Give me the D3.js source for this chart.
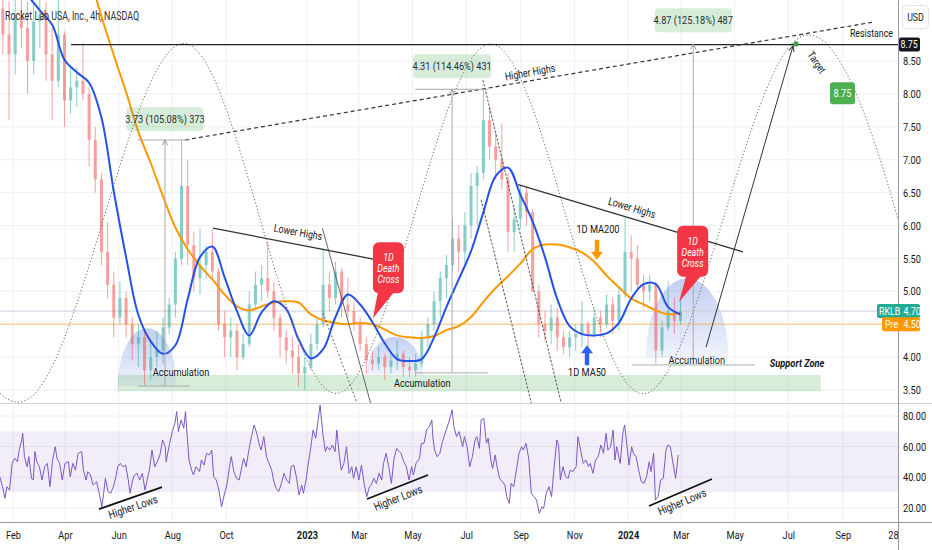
<!DOCTYPE html>
<html>
<head>
<meta charset="utf-8">
<script src="https://cdn.jsdelivr.net/npm/d3@7"></script>
<style>
  body { margin: 0; background: #fff; }
  svg { display: block; }
</style>
</head>
<body>
<svg id="chart" width="932" height="550"></svg>
<script>
// ************************************************************ DATA
// weekly bars, first bar = week of 2022-01-17
var weekStart = new Date(2022, 0, 17);

var candleOpen = [9.3, 8.9, 8.6, 9.2, 9.0, 8.5, 9.1, 9.2, 8.6, 8.2,
  8.9, 7.9, 8.1, 8.2, 8.0, 7.3, 6.7, 5.6, 5.1, 4.6,
  4.9, 4.5, 4.2, 4.3, 3.8, 4.0, 4.1, 4.45, 4.8, 5.5,
  6.6, 5.7, 5.2, 5.4, 5.6, 5.3, 4.5, 4.3, 4.4, 4.0,
  4.2, 4.8, 5.1, 5.2, 5.0, 4.6, 4.3, 4.1, 4.0, 3.75,
  3.85, 4.2, 4.5, 5.1, 4.9, 5.3, 4.8, 4.7, 4.5, 4.2,
  3.95, 3.9, 4.0, 3.85, 3.95, 4.05, 3.85, 3.8, 3.9, 4.3,
  4.5, 4.85, 5.2, 5.4, 5.8, 5.6, 6.0, 6.6, 6.8, 7.6,
  7.2, 7.0, 6.7, 5.9, 6.1, 6.5, 6.2, 5.0, 4.5, 4.4,
  4.6, 4.3, 4.15, 4.3, 4.35, 4.5, 4.35, 4.6, 4.5, 4.8,
  4.55, 4.95, 5.6, 5.5, 5.1, 5.0, 5.1, 4.1, 4.45, 4.7,
  4.55];
var candleHigh = [9.6, 9.4, 9.5, 9.6, 9.4, 9.4, 9.6, 9.4, 9.0, 9.5,
  8.95, 8.4, 8.4, 8.77, 8.1, 7.5, 6.8, 6.05, 5.3, 5.15,
  5.0, 4.6, 4.5, 4.4, 4.25, 4.4, 4.6, 4.9, 5.6, 7.3,
  7.0, 5.9, 5.95, 5.7, 5.95, 5.35, 4.7, 4.6, 4.5, 4.35,
  5.0, 5.3, 5.4, 5.75, 5.15, 4.65, 4.4, 4.3, 4.2, 4.0,
  4.35, 4.6, 5.65, 5.3, 5.45, 5.35, 5.2, 4.85, 4.6, 4.3,
  4.1, 4.15, 4.05, 4.1, 4.25, 4.1, 4.0, 4.05, 4.4, 4.6,
  5.0, 5.3, 5.55, 6.1, 6.0, 6.2, 6.8, 6.9, 8.06, 7.8,
  7.4, 7.55, 6.8, 6.3, 6.6, 6.6, 6.25, 5.1, 4.7, 4.8,
  4.75, 4.4, 4.4, 4.5, 4.85, 4.55, 4.75, 4.7, 4.95, 4.9,
  5.05, 6.12, 5.85, 5.7, 5.25, 5.25, 5.15, 4.55, 5.15, 4.9,
  4.9];
var candleLow = [8.6, 7.6, 8.3, 8.7, 8.0, 8.3, 8.7, 8.2, 7.6, 8.1,
  7.5, 7.7, 7.8, 7.9, 6.9, 6.5, 5.4, 4.9, 4.3, 4.5,
  4.3, 3.95, 3.85, 3.57, 3.65, 3.85, 3.9, 4.35, 4.6, 5.4,
  5.4, 5.0, 4.95, 5.2, 5.2, 4.4, 4.0, 4.0, 3.8, 3.95,
  4.15, 4.75, 4.85, 4.9, 4.4, 4.0, 3.9, 3.75, 3.55, 3.5,
  3.8, 4.1, 4.45, 4.7, 4.8, 4.6, 4.6, 4.4, 4.1, 3.75,
  3.8, 3.8, 3.65, 3.75, 3.8, 3.7, 3.7, 3.7, 3.85, 4.15,
  4.4, 4.6, 4.9, 5.3, 5.3, 5.4, 5.8, 6.0, 6.7, 7.0,
  6.7, 6.55, 5.6, 5.6, 5.95, 6.0, 5.0, 4.3, 4.25, 4.2,
  4.1, 4.05, 4.0, 4.1, 4.15, 4.15, 4.3, 4.3, 4.45, 4.35,
  4.4, 4.9, 5.0, 5.0, 4.75, 4.85, 3.9, 4.0, 4.4, 4.35,
  4.5];
var candleClose = [8.9, 8.6, 9.2, 9.0, 8.5, 9.1, 9.2, 8.6, 8.2, 8.9,
  7.9, 8.1, 8.2, 8.0, 7.3, 6.7, 5.6, 5.1, 4.6, 4.9,
  4.5, 4.2, 4.3, 3.8, 4.0, 4.1, 4.45, 4.8, 5.5, 6.6,
  5.7, 5.2, 5.4, 5.6, 5.3, 4.5, 4.3, 4.4, 4.0, 4.2,
  4.8, 5.1, 5.2, 5.0, 4.6, 4.3, 4.1, 4.0, 3.75, 3.85,
  4.2, 4.5, 5.1, 4.9, 5.3, 4.8, 4.7, 4.5, 4.2, 3.95,
  3.9, 4.0, 3.85, 3.95, 4.05, 3.85, 3.8, 3.9, 4.3, 4.5,
  4.85, 5.2, 5.4, 5.8, 5.6, 6.0, 6.6, 6.8, 7.6, 7.2,
  7.0, 6.7, 5.9, 6.1, 6.5, 6.2, 5.0, 4.5, 4.4, 4.6,
  4.3, 4.15, 4.3, 4.35, 4.5, 4.35, 4.6, 4.5, 4.8, 4.55,
  4.95, 5.6, 5.5, 5.1, 5.0, 5.1, 4.1, 4.45, 4.7, 4.55,
  4.7];

// 1D MA50 (blue), one value every second weekly bar from week 0
var maFast = [9.88, 9.73, 9.5, 9.27, 9.05, 8.52, 8.33, 8.17, 7.64, 6.52,
  5.52, 4.64, 4.24, 4.05, 4.18, 4.88, 5.52, 5.68, 5.21, 4.70,
  4.33, 4.68, 4.85, 4.73, 4.27, 3.98, 4.12, 4.61, 4.95, 4.80,
  4.53, 4.21, 3.97, 3.94, 3.97, 4.30, 4.76, 5.18, 5.61, 6.20,
  6.75, 6.88, 6.47, 6.06, 5.52, 4.88, 4.47, 4.35, 4.33, 4.36,
  4.52, 4.89, 5.11, 5.11, 4.76, 4.65];
// 1D MA200 (orange), one value every second weekly bar from week 12
var maSlowFirstWeek = 12;
var maSlow = [10.42, 9.82, 9.18, 8.59, 8.03, 7.42, 6.95, 6.44, 5.97, 5.64,
  5.39, 5.18, 4.95, 4.77, 4.71, 4.77, 4.83, 4.85, 4.83, 4.65,
  4.56, 4.52, 4.50, 4.52, 4.50, 4.42, 4.33, 4.30, 4.29, 4.32,
  4.41, 4.47, 4.61, 4.84, 5.05, 5.23, 5.42, 5.64, 5.71, 5.71,
  5.67, 5.59, 5.45, 5.24, 5.06, 4.89, 4.80, 4.71, 4.65, 4.67];

// RSI, day offsets from weekStart and values
var rsiDay = [0, 3, 6, 8, 11, 14, 17, 20, 22, 25, 26, 28, 31, 33, 36, 38, 40, 42, 45, 48,
  51, 54, 57, 60, 63, 65, 68, 71, 74, 78, 80, 83, 86, 89, 93, 95, 98, 100, 103, 106,
  110, 113, 116, 118, 120, 123, 126, 129, 132, 134, 137, 140, 143, 146, 148, 151, 153, 156, 159, 162,
  165, 167, 170, 173, 176, 179, 182, 185, 188, 189, 193, 196, 199, 201, 203, 206, 209, 211, 213, 215,
  218, 220, 223, 227, 229, 232, 235, 238, 241, 243, 246, 249, 252, 255, 258, 261, 263, 266, 269, 272,
  275, 277, 280, 283, 286, 289, 292, 295, 297, 300, 303, 306, 309, 311, 314, 317, 320, 323, 326, 329,
  331, 334, 337, 340, 343, 345, 348, 350, 353, 356, 359, 362, 364, 367, 370, 372, 375, 378, 381, 383,
  386, 388, 391, 394, 397, 400, 402, 405, 408, 411, 414, 417, 420, 422, 425, 428, 431, 434, 436, 439,
  442, 445, 448, 451, 454, 456, 459, 462, 465, 468, 470, 473, 477, 479, 482, 485, 488, 491, 492, 494,
  497, 500, 503, 506, 508, 511, 514, 516, 519, 522, 526, 528, 531, 534, 537, 540, 542, 545, 547, 550,
  553, 555, 558, 560, 563, 565, 568, 571, 574, 576, 579, 581, 584, 587, 590, 593, 595, 598, 601, 604,
  607, 610, 613, 616, 618, 621, 624, 627, 630, 633, 635, 637, 640, 643, 646, 648, 651, 655, 657, 660,
  663, 666, 669, 671, 674, 677, 680, 683, 686, 689, 691, 694, 697, 699, 701, 705, 708, 710, 712, 715,
  718, 720, 723, 726, 729, 732, 735, 738, 740, 743, 745, 748, 751, 754, 757, 759, 762, 765, 768, 771];
var rsiValue = [40.3, 33.7, 26.1, 33.7, 31.5, 49.0, 52.3, 50.1, 57.7, 64.3, 68.7, 53.4, 46.8, 53.4, 39.2, 38.1, 56.7, 50.1, 46.8, 38.1,
  46.8, 49.0, 33.7, 51.2, 59.9, 52.3, 49.0, 38.1, 49.0, 50.1, 40.3, 49.0, 44.6, 55.6, 56.7, 44.6, 38.1, 43.6, 41.4, 34.8,
  37.0, 29.4, 20.6, 29.4, 39.2, 30.5, 29.4, 33.7, 40.3, 46.8, 49.0, 46.8, 47.9, 38.1, 29.4, 38.1, 41.4, 42.5, 38.1, 42.5,
  31.5, 37.0, 44.6, 57.7, 46.8, 50.1, 54.5, 64.3, 59.9, 50.1, 62.1, 69.8, 75.2, 82.9, 69.8, 77.4, 72.0, 82.9, 66.5, 51.2,
  44.6, 41.4, 46.8, 43.6, 51.2, 47.9, 55.6, 54.5, 57.7, 40.3, 38.1, 31.5, 20.6, 28.3, 34.8, 46.8, 53.4, 43.6, 39.2, 38.1,
  46.8, 52.3, 46.8, 57.7, 66.5, 74.1, 68.7, 61.0, 57.7, 66.5, 53.4, 49.0, 44.6, 38.1, 32.6, 30.5, 35.9, 42.5, 38.1, 35.9,
  46.8, 47.9, 40.3, 28.3, 34.8, 29.4, 38.1, 46.8, 57.7, 70.8, 65.4, 78.5, 87.2, 68.7, 56.7, 59.9, 57.7, 61.0, 56.7, 70.8,
  53.4, 44.6, 49.0, 59.9, 42.5, 46.8, 39.2, 46.8, 38.1, 47.9, 35.9, 27.2, 33.7, 34.8, 39.2, 35.9, 42.5, 38.1, 49.0, 55.6,
  46.8, 35.9, 52.3, 58.8, 56.7, 55.6, 50.1, 46.8, 38.1, 46.8, 41.4, 49.0, 52.3, 62.1, 62.1, 70.8, 73.0, 77.4, 66.5, 57.7,
  53.4, 55.6, 63.2, 68.7, 72.0, 77.4, 84.0, 73.0, 66.5, 69.8, 59.9, 66.5, 59.9, 46.8, 53.4, 64.3, 66.5, 58.8, 77.4, 78.5,
  62.1, 65.4, 51.2, 45.7, 54.5, 46.8, 39.2, 37.0, 34.8, 27.2, 22.8, 35.9, 33.7, 44.6, 55.6, 59.9, 57.7, 62.1, 52.3, 29.4,
  27.2, 25.0, 16.3, 20.6, 19.5, 29.4, 33.7, 27.2, 46.8, 64.3, 61.0, 38.1, 46.8, 40.3, 39.2, 44.6, 43.6, 46.8, 66.5, 57.7,
  49.0, 51.2, 46.8, 49.0, 42.5, 51.2, 53.4, 61.0, 55.6, 68.7, 57.7, 59.9, 70.8, 51.2, 59.9, 49.0, 68.7, 74.1, 64.3, 47.9,
  59.9, 55.6, 53.4, 44.6, 37.0, 35.9, 40.3, 50.1, 43.6, 55.6, 25.0, 27.2, 38.1, 39.2, 57.7, 61.0, 59.9, 49.0, 39.2, 54.5];

var lastPrice = 4.70;
var prePrice = 4.50;
var resistancePrice = 8.75;

var priceTicks = [3.5, 4, 5, 5.5, 6, 6.5, 7, 7.5, 8, 8.5];
var priceGrid = [3.5, 4, 4.5, 5, 5.5, 6, 6.5, 7, 7.5, 8, 8.5];
var rsiTicks = [20, 40, 60, 80];
var timeTickDates = ["2022-02-01", "2022-04-01", "2022-06-01", "2022-08-01", "2022-10-01", "2023-01-01",
  "2023-03-01", "2023-05-01", "2023-07-01", "2023-09-01", "2023-11-01", "2024-01-01",
  "2024-03-01", "2024-05-01", "2024-07-01", "2024-09-01", "2024-10-28"];
var timeTickLabels = ["Feb", "Apr", "Jun", "Aug", "Oct", "2023", "Mar", "May", "Jul", "Sep", "Nov", "2024",
  "Mar", "May", "Jul", "Sep", "28"];

// ************************************************************ LAYOUT
var FONT = 'Roboto, "Liberation Sans", sans-serif';
var SQ = 0.8; // horizontal squeeze, the screenshot font is condensed
var INK = "#131722";
var axisX = 898, mainBottom = 403, rsiTop = 404, rsiBottom = 522;

var parseDay = d3.timeParse("%Y-%m-%d");
var timeTicks = timeTickDates.map(parseDay);

var x = d3.scaleTime()
  .domain([new Date(2022, 1, 1), new Date(2024, 9, 28)])
  .range([13, 893]);
var y = d3.scaleLinear().domain([3.5, 8.5]).range([390, 61]);
var yr = d3.scaleLinear().domain([20, 80]).range([507.7, 416]);

function dayDate(d) { return new Date(weekStart.getTime() + d * 864e5); }
function px(d) { return x(dayDate(d)); }
// point on the price pane from (day offset, price)
function P(d, p) { return [px(d), y(p)]; }
function R(d, v) { return [px(d), yr(v)]; }

var svg = d3.select("#chart").style("font-family", FONT);
var defs = svg.append("defs");

defs.append("clipPath").attr("id", "clipMain")
  .append("rect").attr("width", axisX).attr("height", mainBottom);
defs.append("clipPath").attr("id", "clipRsi")
  .append("rect").attr("y", rsiTop).attr("width", axisX).attr("height", rsiBottom - rsiTop);

var hump = defs.append("linearGradient").attr("id", "humpFill")
  .attr("x1", 0).attr("y1", 0).attr("x2", 0).attr("y2", 1);
hump.append("stop").attr("offset", "0%").attr("stop-color", "rgba(98,130,225,0.38)");
hump.append("stop").attr("offset", "100%").attr("stop-color", "rgba(98,130,225,0.10)");

function marker(id, color) {
  defs.append("marker").attr("id", id)
    .attr("viewBox", "0 0 10 10").attr("refX", 9).attr("refY", 5)
    .attr("markerWidth", 7).attr("markerHeight", 7).attr("orient", "auto")
    .append("path").attr("d", "M1,1 L9,5 L1,9")
    .attr("fill", "none").attr("stroke", color).attr("stroke-width", 1.4);
}
marker("arrowDark", "#333");
marker("arrowGray", "#999");

svg.append("rect").attr("width", 932).attr("height", 550).attr("fill", "#fff");

// text helper: every label is squeezed horizontally around its anchor
function txt(g, pos, str, opts) {
  opts = opts || {};
  return g.append("text")
    .attr("transform", "translate(" + pos[0] + "," + pos[1] + ") rotate(" + (opts.rot || 0) + ") scale(" + (opts.sq || SQ) + ",1)")
    .attr("text-anchor", opts.anchor || "middle").attr("dominant-baseline", "central")
    .attr("font-size", opts.size || 11).attr("fill", opts.fill || INK)
    .attr("font-style", opts.italic ? "italic" : null)
    .attr("font-weight", opts.bold ? "bold" : null)
    .text(str);
}

// ************************************************************ GRID
var grid = svg.append("g").attr("stroke", "#eef0f4").attr("stroke-width", 1);
timeTicks.slice(0, -1).forEach(function (t) {
  grid.append("line").attr("x1", x(t)).attr("x2", x(t)).attr("y1", 0).attr("y2", rsiBottom);
});
priceGrid.forEach(function (p) {
  grid.append("line").attr("x1", 0).attr("x2", axisX).attr("y1", y(p)).attr("y2", y(p));
});
rsiTicks.forEach(function (v) {
  grid.append("line").attr("x1", 0).attr("x2", axisX).attr("y1", yr(v)).attr("y2", yr(v));
});

var main = svg.append("g").attr("clip-path", "url(#clipMain)");
var rsiG = svg.append("g").attr("clip-path", "url(#clipRsi)");

// ************************************************************ ZONES
// support zone
var zA = P(134, 3.73), zB = P(933, 3.48);
main.append("rect")
  .attr("x", zA[0]).attr("y", zA[1]).attr("width", zB[0] - zA[0]).attr("height", zB[1] - zA[1])
  .attr("fill", "rgba(76,175,80,0.22)");

// accumulation humps: [day left, day right, base price, top price]
var humps = [[134, 201, 3.56, 4.44], [417, 481, 3.73, 4.31], [734, 828, 3.99, 5.2]];
main.selectAll("path.hump").data(humps).join("path").attr("class", "hump")
  .attr("d", function (h) {
    var a = P(h[0], h[2]), b = P(h[1], h[2]);
    var rx = (b[0] - a[0]) / 2, ry = a[1] - y(h[3]);
    return "M" + a[0] + "," + a[1] + " A" + rx + "," + ry + " 0 0 1 " + b[0] + "," + b[1] + " Z";
  })
  .attr("fill", "url(#humpFill)");

// last price lines
main.append("line").attr("x1", 0).attr("x2", axisX).attr("y1", y(lastPrice)).attr("y2", y(lastPrice))
  .attr("stroke", "#c8ccd6").attr("stroke-width", 1);
main.append("line").attr("x1", 0).attr("x2", axisX).attr("y1", y(prePrice)).attr("y2", y(prePrice))
  .attr("stroke", "#ffb74d").attr("stroke-width", 1).attr("opacity", 0.8);

// ************************************************************ CANDLES
var candles = candleOpen.map(function (o, i) {
  return { t: dayDate(7 * i + 3.5), o: o, h: candleHigh[i], l: candleLow[i], c: candleClose[i] };
});
var cg = main.append("g").attr("opacity", 0.55);
cg.selectAll("line").data(candles).join("line")
  .attr("x1", function (d) { return x(d.t); }).attr("x2", function (d) { return x(d.t); })
  .attr("y1", function (d) { return y(d.h); }).attr("y2", function (d) { return y(d.l); })
  .attr("stroke", function (d) { return d.c >= d.o ? "#26a69a" : "#ef5350"; })
  .attr("stroke-width", 1);
cg.selectAll("rect").data(candles).join("rect")
  .attr("x", function (d) { return x(d.t) - 1.5; })
  .attr("width", 3)
  .attr("y", function (d) { return y(Math.max(d.o, d.c)); })
  .attr("height", function (d) { return Math.max(1, Math.abs(y(d.o) - y(d.c))); })
  .attr("fill", function (d) { return d.c >= d.o ? "#26a69a" : "#ef5350"; });

// ************************************************************ MOVING AVERAGES
var maLine = d3.line().curve(d3.curveCatmullRom.alpha(0.5));
main.append("path")
  .attr("d", maLine(maSlow.map(function (v, i) { return [x(dayDate(7 * (maSlowFirstWeek + 2 * i) + 3.5)), y(v)]; })))
  .attr("fill", "none").attr("stroke", "#ff9800").attr("stroke-width", 2);
main.append("path")
  .attr("d", maLine(maFast.map(function (v, i) { return [x(dayDate(7 * (2 * i) + 3.5)), y(v)]; })))
  .attr("fill", "none").attr("stroke", "#2451e6").attr("stroke-width", 2);

// ************************************************************ DRAWINGS
function seg(g, a, b, stroke, width, dash) {
  return g.append("line").attr("x1", a[0]).attr("y1", a[1]).attr("x2", b[0]).attr("y2", b[1])
    .attr("stroke", stroke).attr("stroke-width", width).attr("stroke-dasharray", dash || null);
}

// cycle wave: alternating peaks and troughs
var wave = [[-133, 8.76], [40, 3.45], [213, 8.76], [383, 3.45], [557, 8.76], [727, 3.45], [900, 8.76], [1072, 3.45]];
main.append("path")
  .attr("d", d3.line().curve(d3.curveNatural)(wave.map(function (w) { return P(w[0], w[1]); })))
  .attr("fill", "none").attr("stroke", "#666").attr("stroke-width", 1).attr("stroke-dasharray", "1.2,2.2");

// resistance
seg(main, P(81, resistancePrice), [axisX, y(resistancePrice)], "#222", 1.3);
txt(main, [893, y(8.93)], "Resistance", { anchor: "end" });

// higher highs
seg(main, P(210.5, 7.30), P(992, 9.09), "#333", 1.2, "4,3");
txt(main, P(602.5, 8.33), "Higher Highs", { rot: -10 });

// descending channel lines
seg(main, P(366.6, 5.96), P(422, 3.27), "#555", 0.9);
seg(main, P(367.3, 4.67), P(406, 3.30), "#555", 0.9, "2,2");
seg(main, P(549, 8.21), P(638, 3.30), "#444", 0.9, "2.5,1.5");
seg(main, P(547, 6.39), P(604, 3.30), "#444", 0.9, "2.5,1.5");

// lower highs
seg(main, P(242.3, 5.96), P(432, 5.47), "#333", 1.3);
txt(main, P(339, 5.90), "Lower Highs", { rot: 10.3 });
seg(main, P(589, 6.62), P(844.5, 5.60), "#333", 1.3);
txt(main, P(718.4, 6.27), "Lower Highs", { rot: 16.6 });

// measurements: [day of vertical, low, high, day left, day right, label price, text, box width]
var measures = [
  [187.7, 3.56, 7.30, 157, 216, 7.62, "3.73 (105.08%) 373", 77],
  [514, 3.76, 8.07, 472, 555, 8.42, "4.31 (114.46%) 431", 78],
  [788, 3.88, 8.76, 718, 858, 9.12, "4.87 (125.18%) 487", 77]
];
measures.forEach(function (m) {
  seg(main, P(m[3], m[1]), P(m[4], m[1]), "#aaa", 1);
  if (m[2] < 8.7) seg(main, P(m[3], m[2]), P(m[4], m[2]), "#aaa", 1);
  seg(main, P(m[0], m[1]), P(m[0], m[2]), "#aaa", 1).attr("marker-end", "url(#arrowGray)");
  var c = P(m[0], m[5]);
  main.append("rect").attr("x", c[0] - m[7] / 2).attr("y", c[1] - 12).attr("width", m[7]).attr("height", 24)
    .attr("rx", 4).attr("fill", "rgba(76,175,80,0.22)");
  txt(main, c, m[6], { size: 11.5, fill: "#2a2e39" });
});

// projection arrow and target
seg(main, P(802.5, 4.15), P(901.4, 8.73), "#333", 1).attr("marker-end", "url(#arrowDark)");
var tgt = P(904.8, 8.76);
main.append("circle").attr("cx", tgt[0]).attr("cy", tgt[1]).attr("r", 2.6).attr("fill", "#43a047");
txt(main, P(928.6, 8.48), "Target", { rot: 56, size: 10.5 });
var tb = P(957.6, 8.01);
main.append("rect").attr("x", tb[0] - 12.5).attr("y", tb[1] - 11).attr("width", 25).attr("height", 22)
  .attr("rx", 3).attr("fill", "#4caf50");
txt(main, tb, "8.75", { size: 11.5, fill: "#fff" });

// text labels
txt(main, P(206, 3.77), "Accumulation", { size: 11.5 });
txt(main, P(480, 3.61), "Accumulation", { size: 11.5 });
txt(main, P(792, 3.96), "Accumulation", { size: 11.5 });
txt(main, P(906, 3.91), "Support Zone", { italic: true, bold: true, size: 11.5 });

// MA arrows
function arrow(tip, dir, color) {
  var s = dir; // -1 up, 1 down
  var pts = [[0, 0], [-6, -8 * s], [-2.2, -8 * s], [-2.2, -20 * s], [2.2, -20 * s], [2.2, -8 * s], [6, -8 * s]];
  main.append("polygon")
    .attr("points", pts.map(function (p) { return (tip[0] + p[0]) + "," + (tip[1] + p[1]); }).join(" "))
    .attr("fill", color);
}
var tipOrange = P(678.6, 5.48);
arrow(tipOrange, 1, "#ff9800");
txt(main, [tipOrange[0] + 1, tipOrange[1] - 31], "1D MA200", { size: 11.5 });
var tipBlue = P(667.3, 4.18);
arrow(tipBlue, -1, "#2962ff");
txt(main, [tipBlue[0], tipBlue[1] + 27], "1D MA50", { size: 11.5 });

// death cross callouts: tip point, box offset and tail base relative to tip
function callout(tip, bx, tail) {
  var g = main.append("g");
  g.append("polygon")
    .attr("points", [tip, [tip[0] + tail[0], tip[1] - 26], [tip[0] + tail[1], tip[1] - 26]]
      .map(function (p) { return p.join(","); }).join(" "))
    .attr("fill", "#f23645");
  g.append("rect").attr("x", tip[0] + bx).attr("y", tip[1] - 76).attr("width", 31).attr("height", 51)
    .attr("rx", 6).attr("fill", "#f23645");
  var cx = tip[0] + bx + 15.5;
  ["1D", "Death", "Cross"].forEach(function (s, i) {
    txt(g, [cx, tip[1] - 61 + i * 11], s, { size: 11, italic: true, fill: "#fff" });
  });
}
callout(P(424, 4.59), 0, [5, 21]);
callout(P(772, 4.84), -2, [7, 22]);

// ************************************************************ RSI PANE
rsiG.append("rect").attr("x", 0).attr("width", axisX)
  .attr("y", yr(70)).attr("height", yr(30) - yr(70))
  .attr("fill", "rgba(126,87,194,0.1)");
rsiG.append("path")
  .attr("d", d3.line()(rsiValue.map(function (v, i) { return R(rsiDay[i], v); })))
  .attr("fill", "none").attr("stroke", "#7e57c2").attr("stroke-width", 1);

var rsiLows = [
  [112.7, 19.1, 184.3, 33.5, 151.4, 20.4, -19],
  [417.3, 25.7, 486.6, 41.4, 452.5, 26.3, -21.5],
  [737.7, 21.1, 809.3, 38.8, 775.2, 23.7, -23]
];
rsiLows.forEach(function (h) {
  seg(rsiG, R(h[0], h[1]), R(h[2], h[3]), "#111", 1.8);
  txt(rsiG, R(h[4], h[5]), "Higher Lows", { rot: h[6], size: 11.5 });
});

// ************************************************************ AXES
svg.append("line").attr("x1", 0).attr("x2", 932).attr("y1", mainBottom + 0.5).attr("y2", mainBottom + 0.5)
  .attr("stroke", "#d1d4dc");
svg.append("line").attr("x1", 0).attr("x2", 932).attr("y1", rsiBottom + 0.5).attr("y2", rsiBottom + 0.5)
  .attr("stroke", "#9598a1");
svg.append("line").attr("x1", axisX + 0.5).attr("x2", axisX + 0.5).attr("y1", 0).attr("y2", 550)
  .attr("stroke", "#9598a1");

var pAxis = svg.append("g").attr("transform", "translate(" + axisX + ",0)")
  .call(d3.axisRight(y).tickValues(priceTicks).tickSize(0).tickFormat(d3.format(".2f")));
var rAxis = svg.append("g").attr("transform", "translate(" + axisX + ",0)")
  .call(d3.axisRight(yr).tickValues(rsiTicks).tickSize(0).tickFormat(d3.format(".2f")));
var tAxis = svg.append("g").attr("transform", "translate(0," + rsiBottom + ")")
  .call(d3.axisBottom(x).tickValues(timeTicks).tickSize(0).tickPadding(9)
    .tickFormat(function (d, i) { return timeTickLabels[i]; }));
[pAxis, rAxis, tAxis].forEach(function (a) {
  a.select(".domain").remove();
  a.selectAll("text").attr("font-family", FONT).attr("font-size", 11.5).attr("fill", INK);
});
[pAxis, rAxis].forEach(function (a) {
  a.selectAll("text").attr("x", 0).attr("transform", "translate(5,0) scale(" + SQ + ",1)");
});
tAxis.selectAll("text").attr("transform", "scale(" + SQ + ",1)")
  .attr("font-weight", function (d, i) { return /^20/.test(timeTickLabels[i]) ? "bold" : null; });

// price tags
function tag(yv, x0, w, bg, parts) {
  svg.append("rect").attr("x", x0).attr("y", y(yv) - 7).attr("width", w).attr("height", 14)
    .attr("rx", 2).attr("fill", bg);
  parts.forEach(function (p) {
    txt(svg, [p[0], y(yv)], p[1], { anchor: "start", size: 11, fill: "#fff" });
  });
}
tag(resistancePrice, 899, 21, "#131722", [[900.5, "8.75"]]);
tag(lastPrice, 877, 43, "#22ab94", [[879, "RKLB"], [903.5, "4.70"]]);
tag(prePrice, 882, 38, "#ff9800", [[885, "Pre"], [903.5, "4.50"]]);

svg.append("rect").attr("x", 902.5).attr("y", 5.5).attr("width", 26).attr("height", 23).attr("rx", 4)
  .attr("fill", "#fff").attr("stroke", "#e0e3eb");
txt(svg, [915.5, 17], "USD", { size: 11 });

// title
txt(svg, [5, 16], "Rocket Lab USA, Inc., 4h, NASDAQ", { anchor: "start", size: 12, sq: 0.74, fill: "#2a2e39" });
</script>
</body>
</html>
